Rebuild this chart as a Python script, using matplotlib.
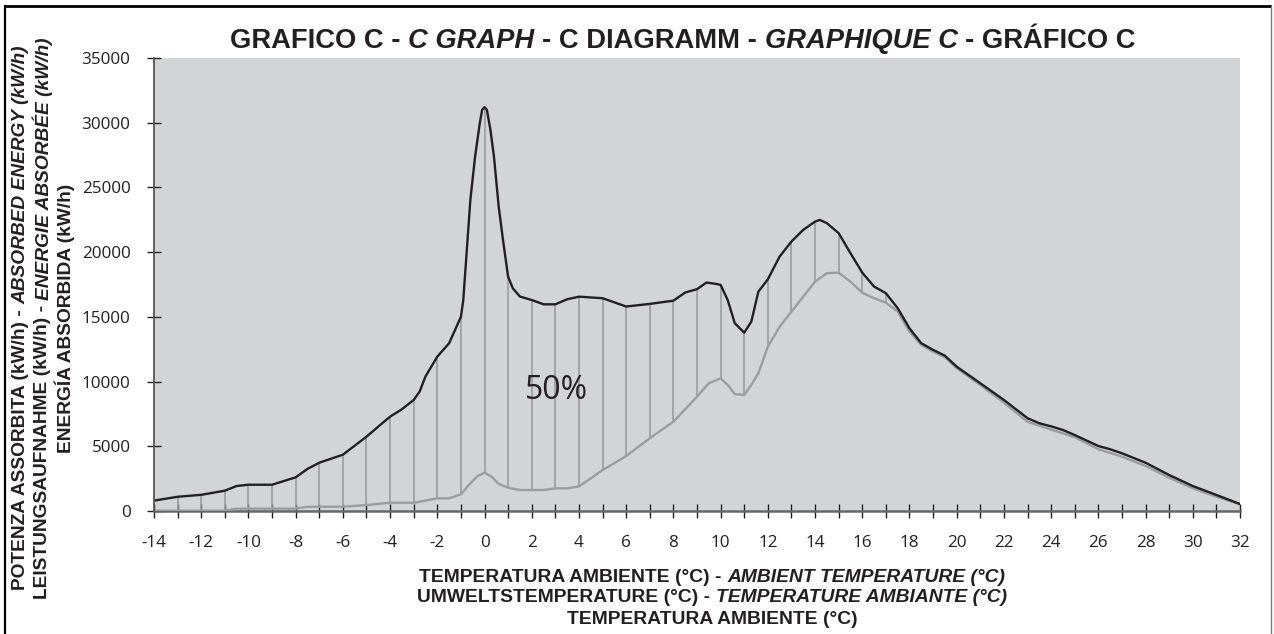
import numpy as np
import matplotlib
matplotlib.use('Agg')
import matplotlib.pyplot as plt
from matplotlib.lines import Line2D

# upper curve (black)
x_up = [-14, -13, -12, -11, -10.5, -10, -9, -8, -7.5, -7, -6, -5, -4.5, -4, -3.5, -3,
        -2.75, -2.5, -2, -1.5, -1, -0.9, -0.75, -0.6, -0.4, -0.2, -0.1, 0, 0.1, 0.25,
        0.4, 0.6, 0.8, 1.0, 1.2, 1.5, 2, 2.5, 3, 3.5, 4, 5, 6, 7, 8, 8.5, 9, 9.4, 9.8,
        10, 10.3, 10.6, 11, 11.3, 11.6, 12, 12.5, 13, 13.5, 14, 14.2, 14.5, 15, 15.5,
        16, 16.5, 17, 17.5, 18, 18.5, 19, 19.5, 20, 21, 22, 23, 23.5, 24, 24.5, 25, 26,
        26.5, 27, 28, 29, 30, 31, 32]
y_up = [800, 1100, 1250, 1570, 1930, 2030, 2030, 2600, 3250, 3730, 4350, 5740, 6520,
        7290, 7860, 8580, 9220, 10400, 11930, 12960, 15000, 16300, 20170, 24040, 27380,
        29970, 31000, 31200, 31000, 29450, 27380, 23520, 20700, 18100, 17200, 16570,
        16300, 15970, 15970, 16360, 16560, 16440, 15800, 16000, 16250, 16880, 17140,
        17650, 17550, 17470, 16300, 14510, 13780, 14630, 16950, 17900, 19660, 20820,
        21720, 22360, 22490, 22240, 21470, 19920, 18420, 17340, 16830, 15670, 14120,
        12960, 12450, 12000, 11150, 9870, 8580, 7170, 6780, 6540, 6260, 5870, 5020,
        4770, 4460, 3730, 2780, 1930, 1240, 540]

# lower curve (grey)
x_lo = [-14, -11, -10.5, -8, -7.5, -6, -5, -4, -3, -2.5, -2, -1.5, -1, -0.6, -0.3, 0,
        0.3, 0.6, 1, 1.5, 2.5, 3, 3.5, 4, 4.5, 5, 5.5, 6, 7, 8, 9, 9.5, 10, 10.3, 10.6,
        11, 11.3, 11.6, 12, 12.5, 13, 13.5, 14, 14.5, 15, 15.5, 16, 16.5, 17, 17.5, 18,
        18.5, 19, 19.5, 20, 21, 22, 23, 24, 25, 26, 27, 28, 29, 30, 31, 32]
y_lo = [30, 30, 180, 180, 330, 330, 460, 640, 640, 800, 980, 980, 1290, 2140, 2700,
        2960, 2650, 2090, 1800, 1620, 1620, 1750, 1750, 1900, 2520, 3170, 3690, 4250,
        5620, 6900, 8830, 9870, 10250, 9740, 9040, 8960, 9740, 10640, 12700, 14240,
        15400, 16560, 17720, 18370, 18420, 17720, 16870, 16440, 16100, 15400, 13860,
        12830, 12310, 11880, 11030, 9740, 8370, 6900, 6290, 5700, 4770, 4200, 3480,
        2570, 1750, 1100, 520]

# where the vertical hatch lines are drawn
hatch_x = np.arange(-13, 18)
x_ticks = list(range(-14, 33))
y_ticks = list(range(0, 35001, 5000))

title_parts = [("GRAFICO C -", "normal"), ("C GRAPH", "italic"), ("- C DIAGRAMM -", "normal"),
               ("GRAPHIQUE C", "italic"), ("- GRÁFICO C", "normal")]
ylab_lines = [[("POTENZA ASSORBITA (kW/h) -", "normal"), ("ABSORBED ENERGY (kW/h)", "italic")],
              [("LEISTUNGSAUFNAHME (kW/h) -", "normal"), ("ENERGIE ABSORBÉE (kW/h)", "italic")],
              [("ENERGÍA ABSORBIDA (kW/h)", "normal")]]
xlab_lines = [[("TEMPERATURA AMBIENTE (°C) -", "normal"), ("AMBIENT TEMPERATURE (°C)", "italic")],
              [("UMWELTSTEMPERATURE (°C) -", "normal"), ("TEMPERATURE AMBIANTE (°C)", "italic")],
              [("TEMPERATURA AMBIENTE (°C)", "normal")]]

W, H = 1274, 634
dark = '#231f20'
bold_font = 'Liberation Sans'
num_font = 'Open Sans'

fig = plt.figure(figsize=(W / 100, H / 100), dpi=100)
ax = fig.add_axes([154 / W, 1 - 511 / H, (1240 - 154) / W, (511 - 58) / H])
ax.set_facecolor('#d3d4d6')

lo_at = np.interp(hatch_x, x_lo, y_lo)
up_at = np.interp(hatch_x, x_up, y_up)
ax.vlines(hatch_x, lo_at, up_at, color='#9b9c9e', lw=1.2, zorder=2)
ax.plot(x_lo, y_lo, color='#9b9c9e', lw=1.7, zorder=3)
ax.plot(x_up, y_up, color=dark, lw=1.7, zorder=4)

ax.text(3.06, 9280, "50%", fontsize=23, family=num_font, color=dark, ha='center', va='center')

ax.set_xlim(-14, 32)
ax.set_ylim(0, 35000)
ax.set_xticks(x_ticks)
ax.set_xticklabels([str(v) if v % 2 == 0 else '' for v in x_ticks])
ax.set_yticks(y_ticks)
ax.set_yticklabels([str(v) for v in y_ticks])
ax.tick_params(direction='inout', length=10, width=1, color=dark, labelcolor=dark)
ax.tick_params(axis='y', pad=12)
ax.tick_params(axis='x', pad=12)
for lab in ax.get_xticklabels() + ax.get_yticklabels():
    lab.set_family(num_font)
    lab.set_fontsize(12.3)
for s in ['top', 'right']:
    ax.spines[s].set_visible(False)
ax.spines['left'].set_color('#555555')
ax.spines['left'].set_linewidth(1.3)
ax.spines['bottom'].set_color('#666666')
ax.spines['bottom'].set_linewidth(1.8)
ax.spines['left'].set_zorder(5)


def mixed_text(parts, cx, cy, size, vertical=False):
    # put bold segments (some italic) one after another, centred on (cx, cy) in pixels
    r = fig.canvas.get_renderer()
    rot = 90 if vertical else 0
    objs = []
    for s, st in parts:
        objs.append(fig.text(0, 0, s, fontsize=size, family=bold_font, fontweight='bold',
                             style=st, rotation=rot, color=dark,
                             ha='center' if vertical else 'left',
                             va='bottom' if vertical else 'center'))
    gap = 0.278 * size * 100 / 72
    sizes = []
    for o in objs:
        bb = o.get_window_extent(r)
        sizes.append(bb.height if vertical else bb.width)
    total = sum(sizes) + gap * (len(objs) - 1)
    pos = (H - cy) - total / 2 if vertical else cx - total / 2
    for o, sz in zip(objs, sizes):
        if vertical:
            o.set_position((cx / W, pos / H))
        else:
            o.set_position((pos / W, 1 - cy / H))
        pos += sz + gap


mixed_text(title_parts, 683, 41, 19.7)
for i, parts in enumerate(xlab_lines):
    mixed_text(parts, 712, 577 + 21 * i, 13.9)
for i, parts in enumerate(ylab_lines):
    mixed_text(parts, 21 + 22 * i, 318, 13.8, vertical=True)

# frame around the figure
fig.add_artist(Line2D([5 / W, 1270 / W], [1 - 6 / H, 1 - 6 / H], color='black', lw=2))
fig.add_artist(Line2D([5 / W, 5 / W], [1 - 6 / H, 0], color='black', lw=1.6))
fig.add_artist(Line2D([1271 / W, 1271 / W], [1 - 6 / H, 0], color='#777777', lw=0.9))

fig.savefig('out.png', dpi=100)
